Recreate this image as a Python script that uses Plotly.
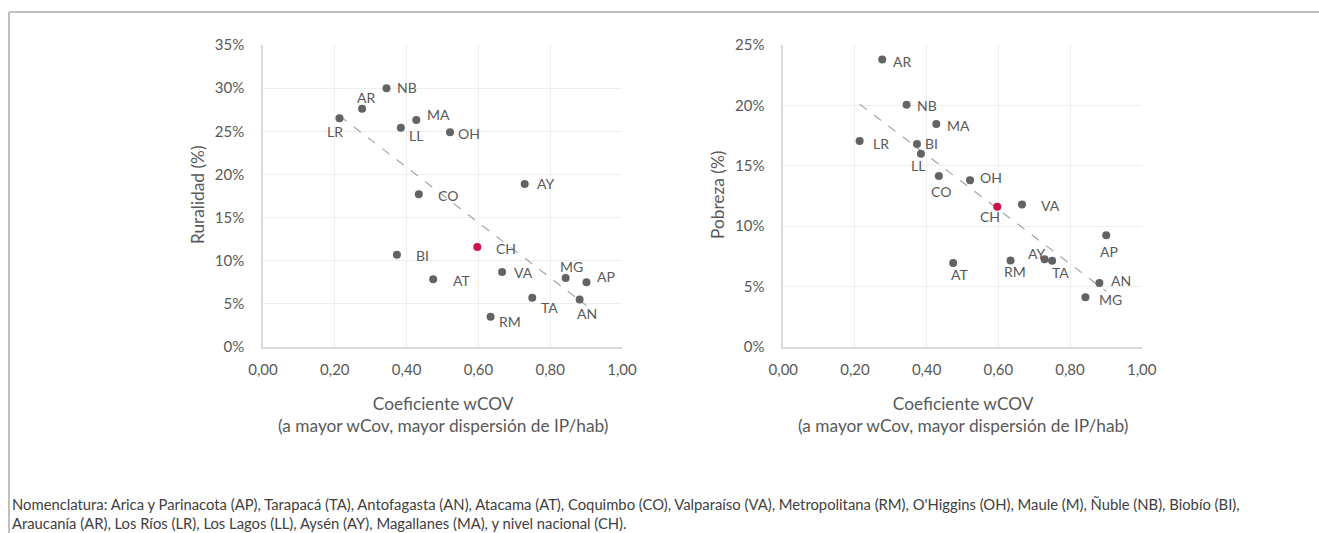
import numpy as np
import plotly.graph_objects as go

# ---------------- data ----------------
regions = ["AP", "TA", "AN", "AT", "CO", "VA", "RM", "OH", "MA", "NB",
           "BI", "AR", "LR", "LL", "AY", "MG", "CH"]
wcov = [0.901, 0.750, 0.882, 0.474, 0.434, 0.666, 0.634, 0.521, 0.427, 0.344,
        0.373, 0.276, 0.213, 0.384, 0.729, 0.843, 0.597]
ruralidad = [7.5, 5.7, 5.5, 7.85, 17.7, 8.7, 3.5, 24.9, 26.3, 30.0,
             10.7, 27.6, 26.5, 25.4, 18.9, 8.0, 11.6]
pobreza = [9.26, 7.13, 5.3, 6.96, 14.15, 11.8, 7.16, 13.8, 18.45, 20.05,
           16.8, 23.8, 17.05, 16.0, 7.27, 4.12, 11.6]
x_ticks = [0.0, 0.2, 0.4, 0.6, 0.8, 1.0]
national = "CH"

# ---------------- style ----------------
W, H = 1319, 533
FONT = "Lato, Open Sans, sans-serif"
GREY_PT = "#636363"
RED_PT = "#D1124A"
TXT = "#595959"

# label offsets (px, dx right, dy down) for each region
left_off = {"NB": (20, -1), "AR": (4, -11), "LR": (-4, 13), "MA": (22, -6),
            "LL": (15, 8), "OH": (19, 1), "AY": (21, 0), "CO": (29, 1),
            "CH": (29, 2), "BI": (26, 1), "AT": (28, 1), "VA": (21, 1),
            "MG": (6, -11), "AP": (20, -6), "TA": (17, 10), "AN": (7, 14),
            "RM": (19, 5)}
right_off = {"AR": (20, 2), "NB": (20, 1), "MA": (22, 1), "LR": (21, 2),
             "BI": (15, -1), "LL": (-3, 12), "CO": (2, 15), "OH": (21, -3),
             "VA": (29, 1), "CH": (-7, 10), "AP": (3, 16), "AY": (-8, -6),
             "TA": (8, 12), "RM": (4, 11), "AT": (6, 12), "AN": (22, -2),
             "MG": (25, 2)}


def px_x(p):
    return p / W


def px_y(p):
    return 1 - p / H


colors = [RED_PT if r == national else GREY_PT for r in regions]

fig = go.Figure()


def add_panel(yvals, xa, ya, offs):
    x = np.array(wcov)
    y = np.array(yvals) / 100.0
    mask = np.array([r != national for r in regions])
    # linear trendline
    m, b = np.polyfit(x[mask], y[mask], 1)
    xs = np.array([x[mask].min(), x[mask].max()])
    fig.add_trace(go.Scatter(x=xs, y=m * xs + b, mode="lines",
                             line=dict(color="#A6A6A6", width=1.2, dash="dash"),
                             xaxis=xa, yaxis=ya, hoverinfo="skip",
                             showlegend=False))
    fig.add_trace(go.Scatter(x=x, y=y, mode="markers",
                             marker=dict(color=colors, size=8, line=dict(width=0)),
                             text=regions, xaxis=xa, yaxis=ya,
                             showlegend=False))
    for r, xv, yv in zip(regions, x, y):
        dx, dy = offs[r]
        fig.add_annotation(x=xv, y=yv, xref=xa, yref=ya, text=r,
                           showarrow=False, xshift=dx, yshift=-dy,
                           font=dict(family=FONT, size=14, color=TXT))


add_panel(ruralidad, "x", "y", left_off)
add_panel(pobreza, "x2", "y2", right_off)

axis_common = dict(showgrid=True, gridcolor="#EEEEEE", gridwidth=1,
                   zeroline=False, showline=True, linecolor="#D9D9D9",
                   linewidth=1.5, tickfont=dict(family=FONT, size=15, color=TXT),
                   ticks="", fixedrange=True, automargin=False)

fig.update_layout(
    template="none",
    width=W, height=H, autosize=False,
    margin=dict(l=0, r=0, t=0, b=0, pad=0, autoexpand=False),
    paper_bgcolor="white", plot_bgcolor="white",
    separators=",.",
    showlegend=False,
    font=dict(family=FONT, color=TXT),
    xaxis=dict(domain=[px_x(263), px_x(622)], range=[0, 1], tickvals=x_ticks,
               tickformat=".2f", anchor="y", ticklabelstandoff=8, **axis_common),
    yaxis=dict(domain=[px_y(347), px_y(45)], range=[0, 0.35], dtick=0.05,
               tickformat=".0%", anchor="x", ticklabelstandoff=14, **axis_common),
    xaxis2=dict(domain=[px_x(783.3), px_x(1141.7)], range=[0, 1], tickvals=x_ticks,
                tickformat=".2f", anchor="y2", ticklabelstandoff=8, **axis_common),
    yaxis2=dict(domain=[px_y(347), px_y(45)], range=[0, 0.25], dtick=0.05,
                tickformat=".0%", anchor="x2", ticklabelstandoff=14, **axis_common),
)

# axis titles
title_font = dict(family=FONT, size=17.3, color=TXT)
for cx in (443, 963):
    fig.add_annotation(x=px_x(cx), y=px_y(414), xref="paper", yref="paper",
                       text="Coeficiente wCOV<br>(a mayor wCov, mayor dispersión de IP/hab)",
                       showarrow=False, font=title_font, align="center",
                       xanchor="center", yanchor="middle")
fig.add_annotation(x=px_x(197), y=px_y(195), xref="paper", yref="paper",
                   text="Ruralidad (%)", textangle=-90, showarrow=False,
                   font=title_font, xanchor="center", yanchor="middle")
fig.add_annotation(x=px_x(717), y=px_y(195), xref="paper", yref="paper",
                   text="Pobreza (%)", textangle=-90, showarrow=False,
                   font=title_font, xanchor="center", yanchor="middle")

# footnote
fig.add_annotation(
    x=px_x(10), y=px_y(513), xref="paper", yref="paper",
    text=("Nomenclatura: Arica y Parinacota (AP), Tarapacá (TA), Antofagasta (AN), Atacama (AT), "
          "Coquimbo (CO), Valparaíso (VA), Metropolitana (RM), O'Higgins (OH), Maule (M), Ñuble (NB), Biobío (BI),<br>"
          "Araucanía (AR), Los Ríos (LR), Los Lagos (LL), Aysén (AY), Magallanes (MA), y nivel nacional (CH)."),
    showarrow=False, align="left", xanchor="left", yanchor="middle",
    font=dict(family=FONT, size=14.8, color="#404040"))

# outer frame
fig.add_shape(type="line", xref="paper", yref="paper",
              x0=px_x(9), x1=1, y0=px_y(12), y1=px_y(12),
              line=dict(color="#BFBFBF", width=2))
fig.add_shape(type="line", xref="paper", yref="paper",
              x0=px_x(9), x1=px_x(9), y0=px_y(12), y1=0,
              line=dict(color="#BFBFBF", width=2))

fig.write_html("out.html", config={"displayModeBar": False, "responsive": False},
               post_script="document.body.style.margin='0';document.body.style.overflow='hidden';")
